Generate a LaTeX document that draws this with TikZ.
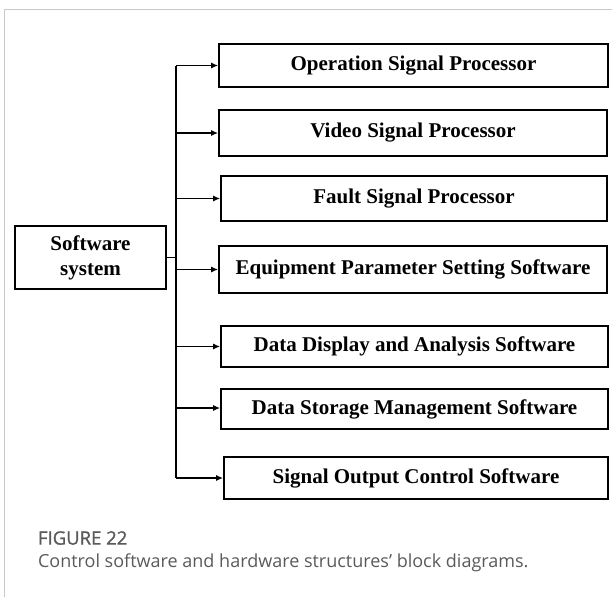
\documentclass[tikz,border=0pt]{standalone}
\usepackage{fontspec}
\setmainfont{Liberation Serif}
\newfontfamily\capfont{Open Sans}
\newfontfamily\capheadfont[FakeBold=1.2]{Open Sans}
\usetikzlibrary{arrows.meta}
\definecolor{capgray}{HTML}{5A5A5A}
\definecolor{framegray}{HTML}{C8C8C8}
\tikzset{
  blockbox/.style={draw=black, line width=1.7pt, minimum height=43pt,
    font=\bfseries\fontsize{21}{24}\selectfont, inner sep=0pt},
  feed/.style={line width=1.5pt, -{Latex[length=7pt,width=6pt]}},
  trunk/.style={line width=1.7pt}
}
\begin{document}
\begin{tikzpicture}[x=1pt,y=-1pt]
\useasboundingbox (0,0) rectangle (612,597);
% card frame
\draw[framegray, line width=0.8pt] (4.5,597) -- (4.5,9.5) -- (612,9.5);

% root block
\node[blockbox, minimum width=151pt, minimum height=63pt, align=center,
  font=\bfseries\fontsize{21}{25}\selectfont] (root) at (90.5,257.5) {Software\\system};

% output blocks
\node[blockbox, minimum width=389pt] (b1) at (413.5,65.5) {Operation Signal Processor};
\node[blockbox, minimum width=388pt, minimum height=46pt] (b2) at (413,133) {Video Signal Processor};
\node[blockbox, minimum width=386pt, minimum height=45pt] (b3) at (414,198.5) {Fault Signal Processor};
\node[blockbox, minimum width=388pt, minimum height=47pt] (b4) at (413,269.5) {Equipment Parameter Setting Software};
\node[blockbox, minimum width=387pt, minimum height=41pt] (b5) at (414.5,346.5) {Data Display and Analysis Software};
\node[blockbox, minimum width=387pt, minimum height=40pt] (b6) at (414.5,409) {Data Storage Management Software};
\node[blockbox, minimum width=384pt, minimum height=42pt] (b7) at (416,478) {Signal Output Control Software};

% distribution bus
\coordinate (top) at (176,65.5);
\coordinate (bot) at (176,478);
\coordinate (tap) at (176,257.5);
\draw[trunk] (root.east) -- (tap);
\draw[trunk] (top) -- (bot);
\draw[feed] (top) -- (b1.west);
\draw[feed] (176,133) -- (b2.west);
\draw[feed] (176,198.5) -- (b3.west);
\draw[feed] (176,269.5) -- (b4.west);
\draw[feed] (176,346.5) -- (b5.west);
\draw[feed] (177,408) -- (b6.west |- 0,408);
\draw[feed] (bot) -- (b7.west);

% caption
\node[anchor=west, text=capgray, font=\capheadfont\fontsize{18.5}{21}\selectfont] (fig) at (34.5,538) {FIGURE 22};
\node[anchor=west, text=capgray, font=\capfont\fontsize{18}{21}\selectfont] (cap) at (34.5,562.5) {Control software and hardware structures’ block diagrams.};
\end{tikzpicture}
\end{document}
